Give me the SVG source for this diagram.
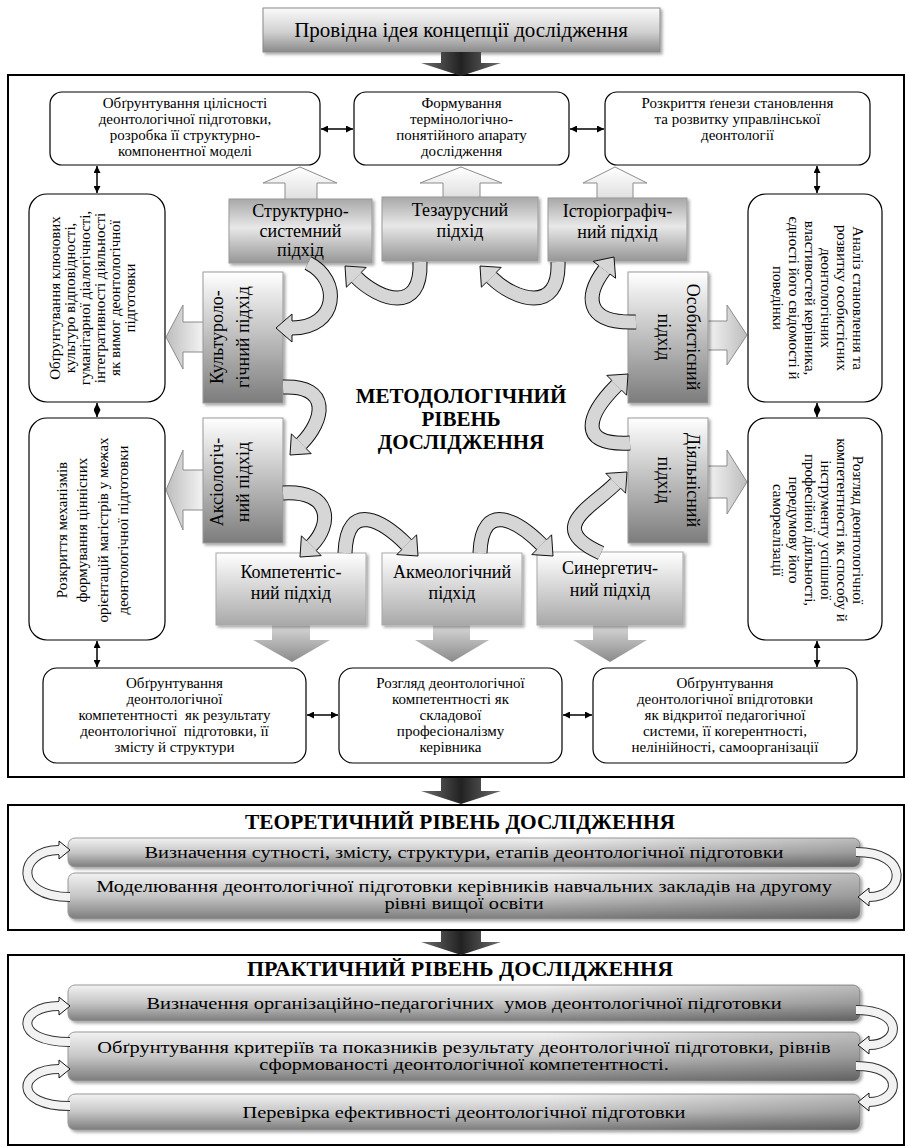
<svg xmlns="http://www.w3.org/2000/svg" xmlns:xlink="http://www.w3.org/1999/xlink" width="908" height="1147" viewBox="0 0 908 1147">
<defs>
<style>
.tx{font-family:"Liberation Serif","Times New Roman",serif;fill:#000;text-anchor:middle}
.f15{font-size:15px}
.f17{font-size:17px}
.f18{font-size:18px}
.hd{font-weight:bold}
.frame{fill:#fff;stroke:#000;stroke-width:2}
.wb{fill:#fff;stroke:#000;stroke-width:1.2}
.gs{fill:url(#gS);stroke:#9a9a9a;stroke-width:1}
.gk{fill:url(#gK);stroke:#9a9a9a;stroke-width:1}
.gb{fill:url(#gB);stroke:#a8a8a8;stroke-width:1}
.bar{fill:url(#gBar);stroke:#9a9a9a;stroke-width:1}
.dbl{stroke:#000;stroke-width:1.5;marker-start:url(#ah);marker-end:url(#ah)}
.cb{fill:none;stroke:#111;stroke-width:15}
.cf{fill:none;stroke:#d6d6d6;stroke-width:13}
.ch{fill:#d6d6d6;stroke:none}
.cs{fill:none;stroke:#111;stroke-width:1}
.sb{fill:none;stroke:#333;stroke-width:10}
.sf{fill:none;stroke:#f2f2f2;stroke-width:8}
.sh2{fill:#f2f2f2;stroke:none}
</style>
<linearGradient id="gTop" x1="0" y1="0" x2="0" y2="1"><stop offset="0" stop-color="#fbfbfb"/><stop offset="0.55" stop-color="#d0d0d0"/><stop offset="1" stop-color="#8a8a8a"/></linearGradient>
<linearGradient id="gS" x1="0" y1="0" x2="0" y2="1"><stop offset="0" stop-color="#a8a8a8"/><stop offset="0.45" stop-color="#e8e8e8"/><stop offset="1" stop-color="#969696"/></linearGradient>
<linearGradient id="gK" x1="0" y1="0" x2="0" y2="1"><stop offset="0" stop-color="#ffffff"/><stop offset="1" stop-color="#7c7c7c"/></linearGradient>
<linearGradient id="gB" x1="0" y1="0" x2="0" y2="1"><stop offset="0" stop-color="#ffffff"/><stop offset="1" stop-color="#a9a9a9"/></linearGradient>
<linearGradient id="gUp" x1="0" y1="0" x2="0" y2="1"><stop offset="0" stop-color="#ffffff"/><stop offset="1" stop-color="#dedede"/></linearGradient>
<linearGradient id="gL" x1="0" y1="0" x2="1" y2="0"><stop offset="0" stop-color="#bdbdbd"/><stop offset="1" stop-color="#f6f6f6"/></linearGradient>
<linearGradient id="gR" x1="0" y1="0" x2="1" y2="0"><stop offset="0" stop-color="#f6f6f6"/><stop offset="1" stop-color="#bdbdbd"/></linearGradient>
<linearGradient id="gD" x1="0" y1="0" x2="0" y2="1"><stop offset="0" stop-color="#dcdcdc"/><stop offset="1" stop-color="#8a8a8a"/></linearGradient>
<linearGradient id="gDark" x1="0" y1="0" x2="1" y2="0"><stop offset="0" stop-color="#6e6e6e"/><stop offset="0.5" stop-color="#222"/><stop offset="1" stop-color="#6e6e6e"/></linearGradient>
<linearGradient id="gBar" x1="0" y1="0" x2="0" y2="1"><stop offset="0" stop-color="#f2f2f2"/><stop offset="0.5" stop-color="#c6c6c6"/><stop offset="1" stop-color="#7c7c7c"/></linearGradient>
<linearGradient id="gBarR" x1="0" y1="0" x2="1" y2="0"><stop offset="0.6" stop-color="#000" stop-opacity="0"/><stop offset="1" stop-color="#000" stop-opacity="0.22"/></linearGradient>
<filter id="sh" x="-10%" y="-10%" width="130%" height="150%"><feDropShadow dx="2" dy="2" stdDeviation="1.5" flood-color="#000" flood-opacity="0.35"/></filter>
<marker id="ah" viewBox="0 0 10 10" refX="10" refY="5" markerWidth="7" markerHeight="7" markerUnits="userSpaceOnUse" orient="auto-start-reverse"><path d="M0,0 L10,5 L0,10 z" fill="#000"/></marker>
<path id="c1" d="M308,263 C342,280 338,328 292,328"/>
<path id="c2" d="M420,262 C422,315 378.9,299.9 356.3,277.3"/>
<path id="c3" d="M558,262 C560,315 513.9,299.9 491.3,277.3"/>
<path id="c4" d="M636,322 C582,324 586.4,293.8 604.4,269.8"/>
<path id="c5" d="M630,443 C575,446 588.4,413.6 616.7,385.3"/>
<path id="c6" d="M601,553 C545,528 591,508 615.7,483.3"/>
<path id="c7" d="M480,553 C482,498 519.6,522.6 541.7,544.7"/>
<path id="c8" d="M345,553 C347,498 384.6,522.6 406.7,544.7"/>
<path id="c9" d="M283,493 C332,490 332.5,524.5 311.3,545.7"/>
<path id="c10" d="M283,387 C332,385 323.9,421.1 301.3,443.7"/>
<path id="tL" d="M70,897 C12,897 18,850 59,850"/>
<path id="tR" d="M856,852 C912,852 904,897 869,897"/>
<path id="pL1" d="M70,1042 C12,1042 18,1006 59,1006"/>
<path id="pL2" d="M70,1106 C12,1106 18,1069 59,1069"/>
<path id="pR1" d="M856,1010 C906,1010 900,1045 869,1045"/>
<path id="pR2" d="M856,1066 C906,1066 900,1102 869,1102"/>
</defs>

<rect width="908" height="1147" fill="#fff"/>

<g id="frames">
<rect class="frame" x="8" y="75" width="896" height="702"/>
<rect class="frame" x="8" y="805" width="896" height="125"/>
<rect class="frame" x="8" y="955" width="896" height="190"/>
</g>

<g id="lead">
<rect x="263" y="8" width="397" height="44" fill="url(#gTop)" stroke="#8a8a8a" filter="url(#sh)"/>
<text class="tx" x="461" y="37" style="font-size:21px">Провідна ідея концепції дослідження</text>
</g>

<g id="big-arrows">
<polygon points="441,52 481,52 481,63 501,63 461,76 421,63 441,63" fill="url(#gDark)"/>
<polygon points="441,778 481,778 481,791 501,791 461,804 421,791 441,791" fill="url(#gDark)"/>
<polygon points="441,931 481,931 481,942 501,942 461,955 421,942 441,942" fill="url(#gDark)"/>
<polygon points="285,201 285,183 263,183 300,167 337,183 317,183 317,201" fill="url(#gUp)" stroke="#8c8c8c"/>
<polygon points="443,199 443,183 420,183 461,167 502,183 480,183 480,199" fill="url(#gUp)" stroke="#8c8c8c"/>
<polygon points="597,200 597,183 583,183 615,167 647,183 633,183 633,200" fill="url(#gUp)" stroke="#8c8c8c"/>
<polygon points="205,322 183,322 183,305 166,337 183,369 183,352 205,352" fill="url(#gL)" stroke="#8c8c8c"/>
<polygon points="205,470 183,470 183,450 166,490 183,530 183,510 205,510" fill="url(#gL)" stroke="#8c8c8c"/>
<polygon points="706,321 727,321 727,305 747,335 727,365 727,350 706,350" fill="url(#gR)" stroke="#8c8c8c"/>
<polygon points="706,466 727,466 727,450 747,482 727,514 727,498 706,498" fill="url(#gR)" stroke="#8c8c8c"/>
<polygon points="272,623 310,623 310,640 330,640 292,662 253,640 272,640" fill="url(#gD)"/>
<polygon points="433,623 470,623 470,640 489,640 452,662 415,640 433,640" fill="url(#gD)"/>
<polygon points="593,623 628,623 628,640 647,640 610,662 573,640 593,640" fill="url(#gD)"/>
</g>

<g id="box-a"><rect class="wb" x="50" y="92" width="270" height="73" rx="12"/>
<text class="tx f15"><tspan x="185" y="108">Обґрунтування цілісності</tspan><tspan x="185" y="124">деонтологічної підготовки,</tspan><tspan x="185" y="140">розробка її структурно-</tspan><tspan x="185" y="156">компонентної моделі</tspan></text></g>
<g id="box-b"><rect class="wb" x="354" y="92" width="215" height="73" rx="12"/>
<text class="tx f15"><tspan x="461.5" y="108">Формування</tspan><tspan x="461.5" y="124">термінологічно-</tspan><tspan x="461.5" y="140">понятійного апарату</tspan><tspan x="461.5" y="156">дослідження</tspan></text></g>
<g id="box-c"><rect class="wb" x="605" y="92" width="265" height="73" rx="12"/>
<text class="tx f15"><tspan x="737.5" y="108">Розкриття ґенези становлення</tspan><tspan x="737.5" y="124">та розвитку управлінської</tspan><tspan x="737.5" y="140">деонтології</tspan></text></g>

<g id="box-l1"><rect class="wb" x="29" y="194" width="136" height="208" rx="18"/>
<text class="tx f15" transform="translate(97,298) rotate(-90)"><tspan x="0" y="-37.5">Обґрунтування ключових</tspan><tspan x="0" y="-22.5">культуро відповідності,</tspan><tspan x="0" y="-7.5">гуманітарної діалогічності,</tspan><tspan x="0" y="7.5">інтегративності діяльності</tspan><tspan x="0" y="22.5">як вимог деонтологічної</tspan><tspan x="0" y="37.5">підготовки</tspan></text></g>
<g id="box-l2"><rect class="wb" x="29" y="418" width="136" height="222" rx="18"/>
<text class="tx f15" transform="translate(97,530) rotate(-90)"><tspan x="0" y="-30.5">Розкриття механізмів</tspan><tspan x="0" y="-10.5">формування ціннісних</tspan><tspan x="0" y="10.5">орієнтацій магістрів у межах</tspan><tspan x="0" y="30.5">деонтологічної підготовки</tspan></text></g>
<g id="box-r1"><rect class="wb" x="748" y="194" width="134" height="208" rx="18"/>
<text class="tx f15" transform="translate(815,298) rotate(90)"><tspan x="0" y="-38">Аналіз становлення та</tspan><tspan x="0" y="-22">розвитку особистісних</tspan><tspan x="0" y="-6">деонтологічних</tspan><tspan x="0" y="10">властивостей керівника,</tspan><tspan x="0" y="26">єдності його свідомості й</tspan><tspan x="0" y="42">поведінки</tspan></text></g>
<g id="box-r2"><rect class="wb" x="748" y="418" width="134" height="222" rx="18"/>
<text class="tx f15" transform="translate(815,530) rotate(90)"><tspan x="0" y="-38">Розгляд деонтологічної</tspan><tspan x="0" y="-22">компетентності як способу й</tspan><tspan x="0" y="-6">інструменту успішної</tspan><tspan x="0" y="10">професійної діяльності,</tspan><tspan x="0" y="26">передумову його</tspan><tspan x="0" y="42">самореалізації</tspan></text></g>

<g id="box-d"><rect class="wb" x="43" y="668" width="263" height="95" rx="14"/>
<text class="tx f15" xml:space="preserve"><tspan x="174.5" y="688">Обґрунтування</tspan><tspan x="174.5" y="704">деонтологічної</tspan><tspan x="174.5" y="720">компетентності  як результату</tspan><tspan x="174.5" y="736">деонтологічної  підготовки, її</tspan><tspan x="174.5" y="752">змісту й структури</tspan></text></g>
<g id="box-e"><rect class="wb" x="339" y="668" width="223" height="95" rx="14"/>
<text class="tx f15"><tspan x="450.5" y="688">Розгляд деонтологічної</tspan><tspan x="450.5" y="704">компетентності як</tspan><tspan x="450.5" y="720">складової</tspan><tspan x="450.5" y="736">професіоналізму</tspan><tspan x="450.5" y="752">керівника</tspan></text></g>
<g id="box-f"><rect class="wb" x="593" y="668" width="264" height="95" rx="14"/>
<text class="tx f15"><tspan x="725" y="688">Обґрунтування</tspan><tspan x="725" y="704">деонтологічної впідготовки</tspan><tspan x="725" y="720">як відкритої педагогічної</tspan><tspan x="725" y="736">системи, її когерентності,</tspan><tspan x="725" y="752">нелінійності, самоорганізації</tspan></text></g>

<g id="ap-structural"><rect class="gs" x="229" y="199" width="143" height="64" filter="url(#sh)"/>
<text class="tx f18"><tspan x="300.5" y="217">Структурно-</tspan><tspan x="300.5" y="237">системний</tspan><tspan x="300.5" y="256">підхід</tspan></text></g>
<g id="ap-thesaurus"><rect class="gs" x="382" y="197" width="156" height="64" filter="url(#sh)"/>
<text class="tx f18"><tspan x="460" y="216">Тезаурусний</tspan><tspan x="460" y="237">підхід</tspan></text></g>
<g id="ap-historio"><rect class="gs" x="548" y="198" width="139" height="63" filter="url(#sh)"/>
<text class="tx f18"><tspan x="617.5" y="217">Історіографіч-</tspan><tspan x="617.5" y="238">ний підхід</tspan></text></g>
<g id="ap-cultural"><rect class="gk" x="203" y="272" width="80" height="131" filter="url(#sh)"/>
<text class="tx f18" transform="translate(243,337) rotate(-90)"><tspan x="0" y="-20.5">Культуроло-</tspan><tspan x="0" y="5.5">гічний підхід</tspan></text></g>
<g id="ap-axiological"><rect class="gk" x="203" y="418" width="80" height="125" filter="url(#sh)"/>
<text class="tx f18" transform="translate(243,482) rotate(-90)"><tspan x="0" y="-20.5">Аксіологіч-</tspan><tspan x="0" y="5.5">ний підхід</tspan></text></g>
<g id="ap-personal"><rect class="gk" x="628" y="272" width="80" height="131" filter="url(#sh)"/>
<text class="tx f18" transform="translate(668,337) rotate(90)"><tspan x="0" y="-18.5">Особистісний</tspan><tspan x="0" y="10.5">підхід</tspan></text></g>
<g id="ap-activity"><rect class="gk" x="628" y="418" width="80" height="125" filter="url(#sh)"/>
<text class="tx f18" transform="translate(668,480) rotate(90)"><tspan x="0" y="-18.5">Діяльнісний</tspan><tspan x="0" y="10.5">підхід</tspan></text></g>
<g id="ap-competence"><rect class="gb" x="216" y="553" width="150" height="72" filter="url(#sh)"/>
<text class="tx f18"><tspan x="291" y="578">Компетентіс-</tspan><tspan x="291" y="599">ний підхід</tspan></text></g>
<g id="ap-acmeo"><rect class="gb" x="382" y="553" width="140" height="72" filter="url(#sh)"/>
<text class="tx f18"><tspan x="452" y="578">Акмеологічний</tspan><tspan x="452" y="599">підхід</tspan></text></g>
<g id="ap-synerg"><rect class="gb" x="537" y="552" width="146" height="73" filter="url(#sh)"/>
<text class="tx f18"><tspan x="610" y="574">Синергетич-</tspan><tspan x="610" y="596">ний підхід</tspan></text></g>

<g id="center-title"><text class="tx hd" style="font-size:21px"><tspan x="461" y="403">МЕТОДОЛОГІЧНИЙ</tspan><tspan x="461" y="426">РІВЕНЬ</tspan><tspan x="461" y="449">ДОСЛІДЖЕННЯ</tspan></text></g>

<g id="connectors">
<line class="dbl" x1="321" y1="129" x2="353" y2="129"/>
<line class="dbl" x1="570" y1="129" x2="604" y2="129"/>
<line class="dbl" x1="97" y1="166" x2="97" y2="193"/>
<line class="dbl" x1="97" y1="403" x2="97" y2="417"/>
<line class="dbl" x1="97" y1="641" x2="97" y2="667"/>
<line class="dbl" x1="817" y1="166" x2="817" y2="193"/>
<line class="dbl" x1="817" y1="403" x2="817" y2="417"/>
<line class="dbl" x1="817" y1="641" x2="817" y2="667"/>
<line class="dbl" x1="307" y1="715" x2="338" y2="715"/>
<line class="dbl" x1="563" y1="715" x2="592" y2="715"/>
<g id="ring">
<use href="#c1" class="cb"/><use href="#c1" class="cf"/><polygon class="ch" points="292,335 292,342 276,328 292,314 292,321"/><polyline class="cs" points="292,335 292,342 276,328 292,314 292,321"/>
<use href="#c2" class="cb"/><use href="#c2" class="cf"/><polygon class="ch" points="361.3,272.3 366.2,267.4 345,266 346.4,287.2 351.4,282.3"/><polyline class="cs" points="361.3,272.3 366.2,267.4 345,266 346.4,287.2 351.4,282.3"/>
<use href="#c3" class="cb"/><use href="#c3" class="cf"/><polygon class="ch" points="496.3,272.3 501.2,267.4 480,266 481.4,287.2 486.4,282.3"/><polyline class="cs" points="496.3,272.3 501.2,267.4 480,266 481.4,287.2 486.4,282.3"/>
<use href="#c4" class="cb"/><use href="#c4" class="cf"/><polygon class="ch" points="610,274 615.6,278.2 614,257 593.2,261.4 598.8,265.6"/><polyline class="cs" points="610,274 615.6,278.2 614,257 593.2,261.4 598.8,265.6"/>
<use href="#c5" class="cb"/><use href="#c5" class="cf"/><polygon class="ch" points="621.6,390.2 626.6,395.2 628,374 606.8,375.4 611.8,380.4"/><polyline class="cs" points="621.6,390.2 626.6,395.2 628,374 606.8,375.4 611.8,380.4"/>
<use href="#c6" class="cb"/><use href="#c6" class="cf"/><polygon class="ch" points="620.6,488.2 625.6,493.2 627,472 605.8,473.4 610.8,478.4"/><polyline class="cs" points="620.6,488.2 625.6,493.2 627,472 605.8,473.4 610.8,478.4"/>
<use href="#c7" class="cb"/><use href="#c7" class="cf"/><polygon class="ch" points="546.6,539.8 551.6,534.8 553,556 531.8,554.6 536.8,549.6"/><polyline class="cs" points="546.6,539.8 551.6,534.8 553,556 531.8,554.6 536.8,549.6"/>
<use href="#c8" class="cb"/><use href="#c8" class="cf"/><polygon class="ch" points="411.6,539.8 416.6,534.8 418,556 396.8,554.6 401.8,549.6"/><polyline class="cs" points="411.6,539.8 416.6,534.8 418,556 396.8,554.6 401.8,549.6"/>
<use href="#c9" class="cb"/><use href="#c9" class="cf"/><polygon class="ch" points="316.2,550.6 321.2,555.6 300,557 301.4,535.8 306.4,540.8"/><polyline class="cs" points="316.2,550.6 321.2,555.6 300,557 301.4,535.8 306.4,540.8"/>
<use href="#c10" class="cb"/><use href="#c10" class="cf"/><polygon class="ch" points="306.2,448.6 311.2,453.6 290,455 291.4,433.8 296.4,438.8"/><polyline class="cs" points="306.2,448.6 311.2,453.6 290,455 291.4,433.8 296.4,438.8"/>
</g>
</g>

<g id="theoretical">
<text class="tx hd" x="460" y="829" style="font-size:20px" textLength="430" lengthAdjust="spacingAndGlyphs">ТЕОРЕТИЧНИЙ РІВЕНЬ ДОСЛІДЖЕННЯ</text>
<g id="t-bar1"><rect class="bar" x="68" y="838" width="792" height="29" rx="7" filter="url(#sh)"/><rect x="68" y="838" width="792" height="29" rx="7" fill="url(#gBarR)"/>
<text class="tx f17" transform="matrix(1.2 0 0 1 -92.8 0)" x="464" y="858">Визначення сутності, змісту, структури, етапів деонтологічної підготовки</text></g>
<g id="t-bar2"><rect class="bar" x="68" y="873" width="792" height="46" rx="7" filter="url(#sh)"/><rect x="68" y="873" width="792" height="46" rx="7" fill="url(#gBarR)"/>
<text class="tx f17" transform="matrix(1.2 0 0 1 -92.8 0)"><tspan x="464" y="892">Моделювання деонтологічної підготовки керівників навчальних закладів на другому</tspan><tspan x="464" y="909">рівні вищої освіти</tspan></text></g>
</g>

<g id="practical">
<text class="tx hd" x="460" y="976" style="font-size:20px" textLength="426" lengthAdjust="spacingAndGlyphs">ПРАКТИЧНИЙ РІВЕНЬ ДОСЛІДЖЕННЯ</text>
<g id="p-bar1"><rect class="bar" x="68" y="985" width="792" height="36" rx="7" filter="url(#sh)"/><rect x="68" y="985" width="792" height="36" rx="7" fill="url(#gBarR)"/>
<text class="tx f17" transform="matrix(1.2 0 0 1 -92.8 0)" x="464" y="1009" xml:space="preserve">Визначення організаційно-педагогічних  умов деонтологічної підготовки</text></g>
<g id="p-bar2"><rect class="bar" x="68" y="1032" width="792" height="49" rx="7" filter="url(#sh)"/><rect x="68" y="1032" width="792" height="49" rx="7" fill="url(#gBarR)"/>
<text class="tx f17" transform="matrix(1.2 0 0 1 -92.8 0)"><tspan x="464" y="1053">Обґрунтування критеріїв та показників результату деонтологічної підготовки, рівнів</tspan><tspan x="464" y="1070">сформованості деонтологічної компетентності.</tspan></text></g>
<g id="p-bar3"><rect class="bar" x="68" y="1094" width="792" height="36" rx="7" filter="url(#sh)"/><rect x="68" y="1094" width="792" height="36" rx="7" fill="url(#gBarR)"/>
<text class="tx f17" transform="matrix(1.2 0 0 1 -92.8 0)" x="464" y="1118">Перевірка ефективності деонтологічної підготовки</text></g>
</g>

<g id="cycle-connectors">
<use href="#tL" class="sb"/><use href="#tL" class="sf"/><polygon class="sh2" points="59,855 59,859 70,850 59,841 59,845"/><polyline class="cs" points="59,855 59,859 70,850 59,841 59,845"/>
<use href="#tR" class="sb"/><use href="#tR" class="sf"/><polygon class="sh2" points="869,902 869,906 858,897 869,888 869,892"/><polyline class="cs" points="869,902 869,906 858,897 869,888 869,892"/>
<use href="#pL1" class="sb"/><use href="#pL1" class="sf"/><polygon class="sh2" points="59,1011 59,1015 70,1006 59,997 59,1001"/><polyline class="cs" points="59,1011 59,1015 70,1006 59,997 59,1001"/>
<use href="#pL2" class="sb"/><use href="#pL2" class="sf"/><polygon class="sh2" points="59,1074 59,1078 70,1069 59,1060 59,1064"/><polyline class="cs" points="59,1074 59,1078 70,1069 59,1060 59,1064"/>
<use href="#pR1" class="sb"/><use href="#pR1" class="sf"/><polygon class="sh2" points="869,1050 869,1054 858,1045 869,1036 869,1040"/><polyline class="cs" points="869,1050 869,1054 858,1045 869,1036 869,1040"/>
<use href="#pR2" class="sb"/><use href="#pR2" class="sf"/><polygon class="sh2" points="869,1107 869,1111 858,1102 869,1093 869,1097"/><polyline class="cs" points="869,1107 869,1111 858,1102 869,1093 869,1097"/>
</g>
</svg>
